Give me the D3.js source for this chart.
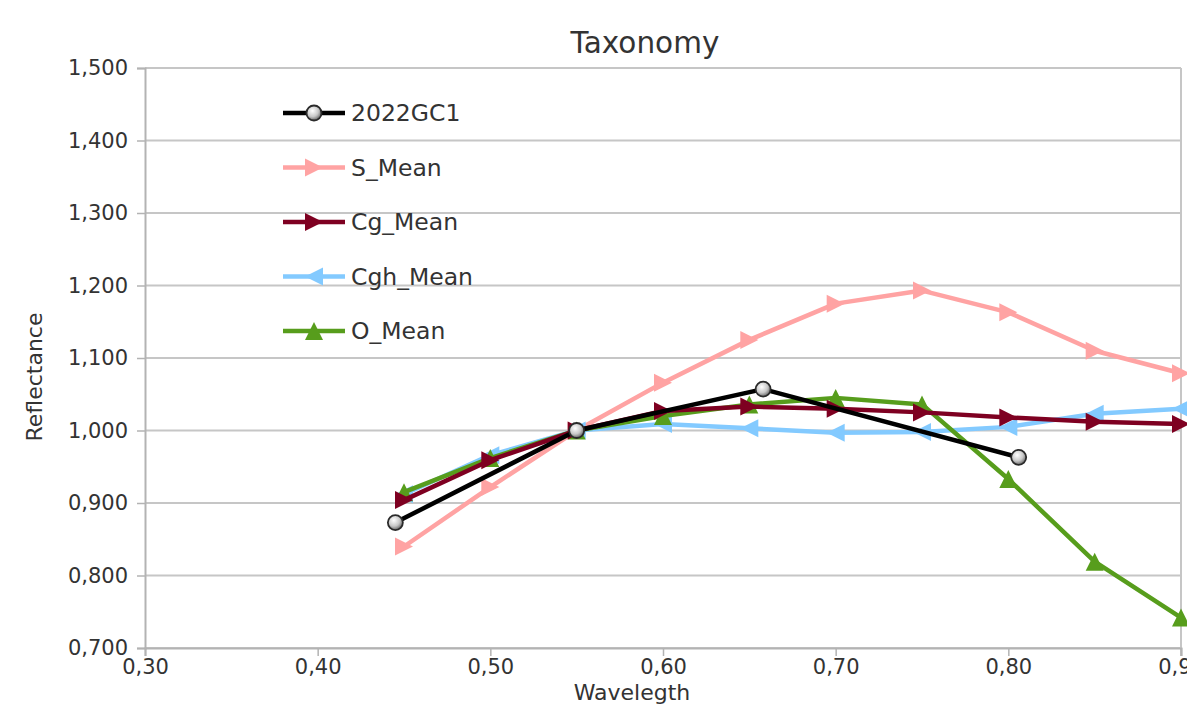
<!DOCTYPE html>
<html>
<head>
<meta charset="utf-8">
<script src="https://cdn.jsdelivr.net/npm/d3@7"></script>
<style>
  body { margin: 0; background: #fff; }
  text { font-family: "DejaVu Sans", sans-serif; fill: #333; }
</style>
</head>
<body>
<svg id="chart" width="1187" height="728"></svg>
<script>
"use strict";

// wavelengths of the class means
var meanWaves = [0.45, 0.50, 0.55, 0.60, 0.65, 0.70, 0.75, 0.80, 0.85, 0.90];
// wavelengths of the object photometry (B V R I)
var objWaves = [0.445, 0.55, 0.658, 0.806];

var gc1 = [0.873, 1.000, 1.057, 0.963];
var sMean = [0.840, 0.922, 1.000, 1.066, 1.125, 1.175, 1.193, 1.163, 1.110, 1.079];
var cgMean = [0.904, 0.959, 1.000, 1.027, 1.033, 1.030, 1.025, 1.018, 1.012, 1.009];
var cghMean = [0.912, 0.966, 1.000, 1.009, 1.003, 0.997, 0.998, 1.005, 1.023, 1.030];
var oMean = [0.915, 0.962, 1.000, 1.020, 1.036, 1.045, 1.036, 0.933, 0.819, 0.742];

var xTicks = [0.30, 0.40, 0.50, 0.60, 0.70, 0.80, 0.90];
var yTicks = [0.700, 0.800, 0.900, 1.000, 1.100, 1.200, 1.300, 1.400, 1.500];

var seriesNames = ["2022GC1", "S_Mean", "Cg_Mean", "Cgh_Mean", "O_Mean"];

var svg = d3.select("#chart");

var plot = { left: 145, right: 1181, top: 68, bottom: 648 };

var x = d3.scaleLinear().domain([0.30, 0.90]).range([plot.left, plot.right]);
var y = d3.scaleLinear().domain([0.700, 1.500]).range([plot.bottom, plot.top]);

var comma = function(f){ return function(v){ return d3.format(f)(v).replace(".", ","); }; };

// gradient for the round markers
var grad = svg.append("defs").append("radialGradient")
    .attr("id", "ball").attr("cx", "40%").attr("cy", "35%").attr("r", "65%");
grad.append("stop").attr("offset", "0%").attr("stop-color", "#ffffff");
grad.append("stop").attr("offset", "60%").attr("stop-color", "#c8c8c8");
grad.append("stop").attr("offset", "100%").attr("stop-color", "#6a6a6a");

// horizontal grid
svg.append("g")
    .selectAll("line")
    .data(yTicks)
    .join("line")
    .attr("x1", plot.left).attr("x2", plot.right)
    .attr("y1", function(d){ return y(d); })
    .attr("y2", function(d){ return y(d); })
    .attr("stroke", "#c6c6c6")
    .attr("stroke-width", 2);

// right edge
svg.append("line")
    .attr("x1", plot.right).attr("x2", plot.right)
    .attr("y1", plot.top).attr("y2", plot.bottom + 8)
    .attr("stroke", "#c6c6c6").attr("stroke-width", 2);

// axes
var yAxis = svg.append("g")
    .attr("transform", "translate(" + plot.left + ",0)")
    .call(d3.axisLeft(y).tickValues(yTicks).tickFormat(comma(".3f")).tickSize(8).tickPadding(9));
var xAxis = svg.append("g")
    .attr("transform", "translate(0," + plot.bottom + ")")
    .call(d3.axisBottom(x).tickValues(xTicks).tickFormat(comma(".2f")).tickSize(8).tickPadding(3));

[yAxis, xAxis].forEach(function(ax){
    ax.select(".domain").attr("stroke", "#b3b3b3").attr("stroke-width", 2);
    ax.selectAll(".tick line").attr("stroke", "#b3b3b3").attr("stroke-width", 1.5);
    ax.selectAll(".tick text")
        .attr("fill", "#333")
        .style("font-family", "'DejaVu Sans', sans-serif")
        .style("font-size", "21px");
});

// marker shapes
function markerPath(kind, s){
    if (kind == "right") return "M" + (-s) + "," + (-s) + "L" + s + ",0L" + (-s) + "," + s + "Z";
    if (kind == "left") return "M" + s + "," + (-s) + "L" + (-s) + ",0L" + s + "," + s + "Z";
    if (kind == "up") return "M0," + (-s) + "L" + s + "," + s + "L" + (-s) + "," + s + "Z";
    return null;
}

function drawMarker(g, kind, color, cx, cy){
    if (kind == "ball"){
        g.append("circle")
            .attr("cx", cx).attr("cy", cy).attr("r", 7.5)
            .attr("fill", "url(#ball)")
            .attr("stroke", "#2a2a2a").attr("stroke-width", 1.8);
    } else {
        g.append("path")
            .attr("d", markerPath(kind, 9))
            .attr("transform", "translate(" + cx + "," + cy + ")")
            .attr("fill", color);
    }
}

var series = [
    { name: seriesNames[1], xs: meanWaves, ys: sMean, color: "#ffa3a3", marker: "right" },
    { name: seriesNames[3], xs: meanWaves, ys: cghMean, color: "#83caff", marker: "left" },
    { name: seriesNames[4], xs: meanWaves, ys: oMean, color: "#579d1c", marker: "up" },
    { name: seriesNames[2], xs: meanWaves, ys: cgMean, color: "#7e0021", marker: "right" },
    { name: seriesNames[0], xs: objWaves, ys: gc1, color: "#000000", marker: "ball" }
];

var line = d3.line()
    .x(function(d){ return x(d[0]); })
    .y(function(d){ return y(d[1]); });

series.forEach(function(s){
    var pts = d3.zip(s.xs, s.ys);
    var g = svg.append("g");
    g.append("path")
        .attr("d", line(pts))
        .attr("fill", "none")
        .attr("stroke", s.color)
        .attr("stroke-width", 4.5)
        .attr("stroke-linejoin", "round");
    pts.forEach(function(p){
        drawMarker(g, s.marker, s.color, x(p[0]), y(p[1]));
    });
});

// legend
var legendOrder = [4, 0, 3, 1, 2];
var legend = svg.append("g").attr("transform", "translate(283,113)");
legendOrder.forEach(function(idx, i){
    var s = series[idx];
    var row = legend.append("g").attr("transform", "translate(0," + (i * 54.5) + ")");
    row.append("line")
        .attr("x1", 0).attr("x2", 62).attr("y1", 0).attr("y2", 0)
        .attr("stroke", s.color).attr("stroke-width", 4.5);
    drawMarker(row, s.marker, s.color, 31, 0);
    row.append("text")
        .attr("x", 68).attr("y", 0).attr("dy", "0.36em")
        .style("font-size", "23.5px")
        .text(s.name);
});

// titles
svg.append("text")
    .attr("x", 645).attr("y", 42).attr("dy", "0.36em")
    .attr("text-anchor", "middle")
    .style("font-size", "29.5px")
    .text("Taxonomy");

svg.append("text")
    .attr("transform", "translate(34,377) rotate(-90)")
    .attr("text-anchor", "middle").attr("dy", "0.36em")
    .style("font-size", "22px")
    .text("Reflectance");

svg.append("text")
    .attr("x", 632).attr("y", 692).attr("dy", "0.36em")
    .attr("text-anchor", "middle")
    .style("font-size", "22px")
    .text("Wavelegth");
</script>
</body>
</html>
